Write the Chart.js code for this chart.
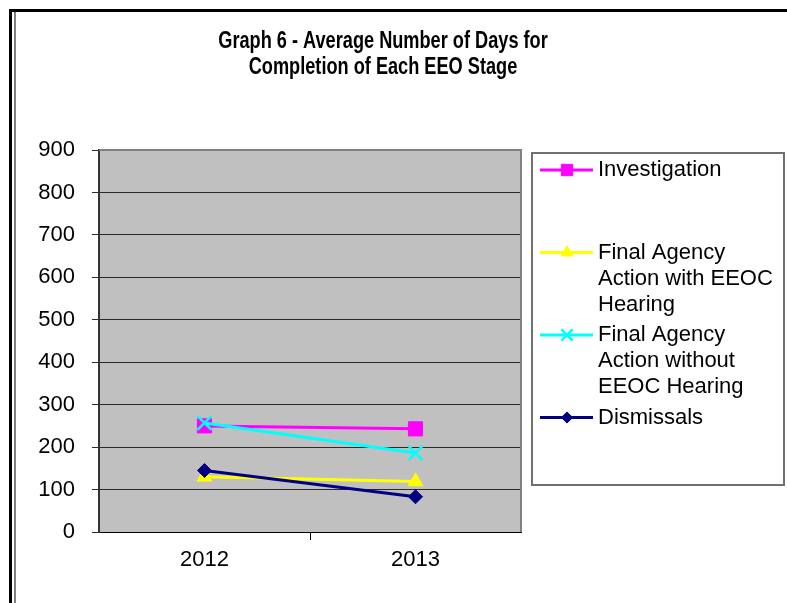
<!DOCTYPE html>
<html>
<head>
<meta charset="utf-8">
<script src="https://cdn.jsdelivr.net/npm/chart.js@4"></script>
<style>
html, body { margin: 0; padding: 0; background: #fff; }
#wrap { width: 787px; height: 603px; }
</style>
</head>
<body>
<div id="wrap"><canvas id="graph6" width="787" height="603"></canvas></div>
<script>
// data
var years = ['2012', '2013'];
var seriesNames = ['Investigation', 'Final Agency Action with EEOC Hearing', 'Final Agency Action without EEOC Hearing', 'Dismissals'];
var investigation = [250, 243];
var withHearing = [130, 119];
var withoutHearing = [257, 186];
var dismissals = [145, 83];
var yTicks = [0, 100, 200, 300, 400, 500, 600, 700, 800, 900];
var titleLines = ['Graph 6 - Average Number of Days for', 'Completion of Each EEO Stage'];

var fontFamily = '"Liberation Sans", Arial, sans-serif';

function wrapText(ctx, text, maxWidth) {
    var words = text.split(' ');
    var lines = [];
    var cur = '';
    words.forEach(function (w) {
        var test = cur ? cur + ' ' + w : w;
        if (cur && ctx.measureText(test).width > maxWidth) {
            lines.push(cur);
            cur = w;
        } else {
            cur = test;
        }
    });
    if (cur) lines.push(cur);
    return lines;
}

var framePlugin = {
    id: 'frame',
    beforeDraw: function (chart) {
        var ctx = chart.ctx, a = chart.chartArea;
        ctx.save();
        ctx.fillStyle = '#fff';
        ctx.fillRect(0, 0, chart.width, chart.height);

        // outer frame
        ctx.fillStyle = '#000';
        ctx.fillRect(9, 9, chart.width - 9, 3);
        ctx.fillRect(9, 9, 3, chart.height - 9);
        ctx.fillStyle = '#808080';
        ctx.fillRect(14, 12, 2, chart.height - 12);

        // plot background
        ctx.fillStyle = '#c0c0c0';
        ctx.fillRect(a.left, a.top, a.right - a.left, a.bottom - a.top);

        // title
        ctx.fillStyle = '#000';
        ctx.font = 'bold 23px ' + fontFamily;
        ctx.textAlign = 'center';
        ctx.textBaseline = 'alphabetic';
        titleLines.forEach(function (t, i) {
            ctx.save();
            ctx.translate(383, 48 + i * 26);
            ctx.scale(0.79, 1);
            ctx.fillText(t, 0, 0);
            ctx.restore();
        });
        ctx.restore();
    },
    beforeDatasetsDraw: function (chart) {
        var ctx = chart.ctx, a = chart.chartArea;
        ctx.save();
        ctx.strokeStyle = '#808080';
        ctx.lineWidth = 2;
        ctx.beginPath();
        ctx.moveTo(a.left, a.top);
        ctx.lineTo(a.right, a.top);
        ctx.lineTo(a.right, a.bottom);
        ctx.stroke();
        ctx.restore();
    },
    afterDraw: function (chart) {
        var ctx = chart.ctx;
        ctx.save();
        ctx.strokeStyle = '#707070';
        ctx.lineWidth = 2;
        ctx.strokeRect(532, 153, 252, 332);

        ctx.font = '22px ' + fontFamily;
        ctx.textAlign = 'left';
        ctx.textBaseline = 'middle';
        chart.data.datasets.forEach(function (ds, i) {
            var y = 170 + i * 82.5;
            ctx.strokeStyle = ds.borderColor;
            ctx.lineWidth = 3;
            ctx.beginPath();
            ctx.moveTo(540, y);
            ctx.lineTo(593, y);
            ctx.stroke();

            ctx.fillStyle = ds.backgroundColor;
            ctx.lineWidth = ds.pointBorderWidth;
            Chart.helpers.drawPoint(ctx, {
                pointStyle: ds.pointStyle,
                radius: ds.pointRadius * 0.8,
                rotation: 0,
                borderWidth: ds.pointBorderWidth
            }, 567, y);

            ctx.fillStyle = '#000';
            wrapText(ctx, ds.label, 185).forEach(function (line, j) {
                ctx.fillText(line, 598, y + j * 26);
            });
        });
        ctx.restore();
    }
};

function DrawGraph() {
    var data = {
        labels: years,
        datasets: [
            { label: seriesNames[0], data: investigation, borderColor: '#ff00ff', backgroundColor: '#ff00ff',
              pointStyle: 'rect', pointRadius: 10, pointBorderWidth: 1, order: 4 },
            { label: seriesNames[1], data: withHearing, borderColor: '#ffff00', backgroundColor: '#ffff00',
              pointStyle: 'triangle', pointRadius: 8.5, pointBorderWidth: 1, order: 3 },
            { label: seriesNames[2], data: withoutHearing, borderColor: '#00ffff', backgroundColor: '#00ffff',
              pointStyle: 'crossRot', pointRadius: 10, pointBorderWidth: 2.5, order: 2 },
            { label: seriesNames[3], data: dismissals, borderColor: '#000080', backgroundColor: '#000080',
              pointStyle: 'rectRot', pointRadius: 7, pointBorderWidth: 1, order: 1 }
        ]
    };
    data.datasets.forEach(function (ds) {
        ds.borderWidth = 3;
        ds.tension = 0;
        ds.fill = false;
        ds.pointHoverRadius = ds.pointRadius;
    });

    var options = {
        responsive: false,
        animation: false,
        devicePixelRatio: 1,
        events: [],
        layout: { padding: { top: 150, left: 0, right: 266, bottom: 0 } },
        plugins: {
            legend: { display: false },
            title: { display: false },
            tooltip: { enabled: false }
        },
        scales: {
            x: {
                offset: true,
                grid: {
                    offset: true, drawOnChartArea: false, tickLength: 8, lineWidth: 1,
                    // only the tick between the two years shows below the axis
                    color: function (c) { return (c.index > 0 && c.index < years.length) ? '#000' : 'rgba(0,0,0,0)'; }
                },
                border: { display: true, color: '#000', width: 1 },
                ticks: { color: '#000', font: { family: fontFamily, size: 22 }, padding: 7, maxRotation: 0 },
                afterFit: function (s) { s.height = 71; }
            },
            y: {
                min: yTicks[0],
                max: yTicks[yTicks.length - 1],
                ticks: { stepSize: yTicks[1] - yTicks[0], color: '#000', font: { family: fontFamily, size: 22 }, padding: 17 },
                grid: { color: '#2a2a2a', tickLength: 7, lineWidth: 1 },
                border: { display: true, color: '#333', width: 2 },
                afterFit: function (s) { s.width = 99; }
            }
        }
    };

    new Chart(document.getElementById('graph6'), {
        type: 'line',
        data: data,
        options: options,
        plugins: [framePlugin]
    });
}

DrawGraph();
</script>
</body>
</html>
